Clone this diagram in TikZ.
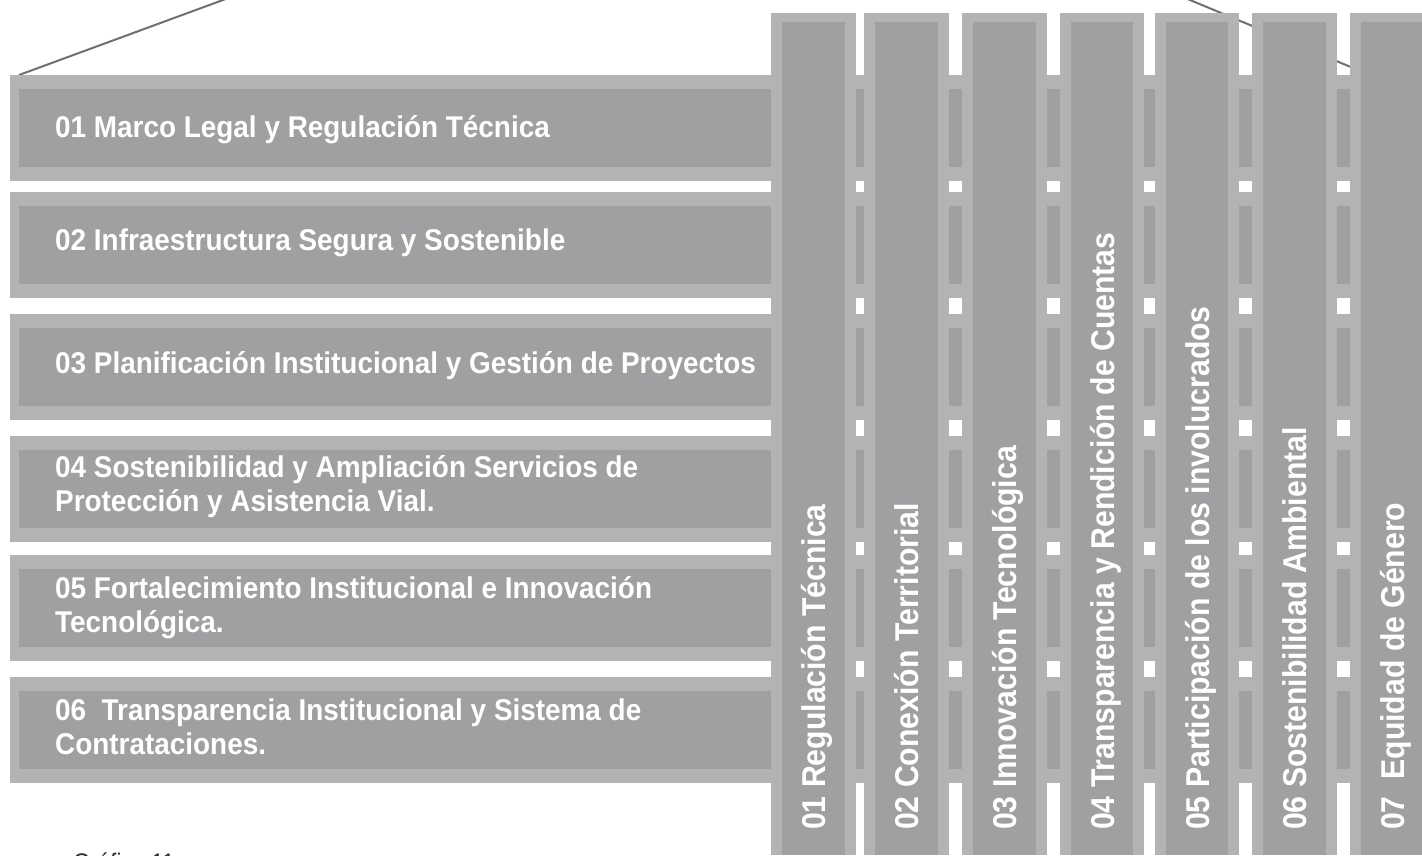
\documentclass[tikz,border=0pt]{standalone}
\usepackage{fontspec}
\newfontfamily\labelFont{Liberation Sans}[FakeStretch=0.93]
\newfontfamily\pillarFont{Liberation Sans}[FakeStretch=0.915]
\usepackage{xcolor}
\definecolor{pillarDark}{HTML}{A0A0A2}
\definecolor{pillarLight}{HTML}{B3B3B5}
\definecolor{roofGray}{HTML}{707070}
\definecolor{captionDark}{HTML}{2B2B2B}
\usepackage{tikz}
\usetikzlibrary{positioning}
\tikzset{%
  beamBar/.style={%
    fill=pillarLight
  },
  beamFill/.style={%
    fill=pillarDark
  },
  roofLine/.style={%
    draw=roofGray,
    line width=2pt
  },
  rowLabel/.style={%
    anchor=base west,
    inner sep=0pt,
    text=white,
    text width=720pt,
    align=flush left,
    font=\labelFont\bfseries\fontsize{30}{34}\selectfont
  },
  colLabel/.style={%
    anchor=base west,
    inner sep=0pt,
    text=white,
    rotate=90,
    font=\pillarFont\bfseries\fontsize{33}{38}\selectfont
  },
  captionText/.style={%
    anchor=base west,
    inner sep=0pt,
    text=captionDark,
    font=\labelFont\fontsize{24}{28}\selectfont
  }
}

\begin{document}
\begin{tikzpicture}[x=1pt,y=-1pt]
            \useasboundingbox (0,0) rectangle (1422,855);

            % roof
            \coordinate (eaveLeft) at (19,75);
            \coordinate (ridgeLeft) at (427,-75);
            \coordinate (ridgeRight) at (1130,-25);
            \coordinate (eaveRight) at (1422,96.7);
            \draw[roofLine] (eaveLeft) -- (ridgeLeft);
            \draw[roofLine] (ridgeRight) -- (eaveRight);

            % beams
            \fill[beamBar] (10,75) rectangle (1422,181);
            \fill[beamFill] (19,89) rectangle (1422,167);
            \fill[beamBar] (10,192) rectangle (1422,298);
            \fill[beamFill] (19,206) rectangle (1422,284);
            \fill[beamBar] (10,314) rectangle (1422,420);
            \fill[beamFill] (19,328) rectangle (1422,406);
            \fill[beamBar] (10,436) rectangle (1422,542);
            \fill[beamFill] (19,450) rectangle (1422,528);
            \fill[beamBar] (10,555) rectangle (1422,661);
            \fill[beamFill] (19,569) rectangle (1422,647);
            \fill[beamBar] (10,677) rectangle (1422,783);
            \fill[beamFill] (19,691) rectangle (1422,769);

            \node[rowLabel] (legal) at (55,137) {01 Marco Legal y Regulación Técnica};
            \node[rowLabel] (infra) at (55,250) {02 Infraestructura Segura y Sostenible};
            \node[rowLabel] (plan) at (55,373) {03 Planificación Institucional y Gestión de Proyectos};
            \node[rowLabel] (servicios) at (55,477) {04 Sostenibilidad y Ampliación Servicios de\\Protección y Asistencia Vial.};
            \node[rowLabel] (fortalece) at (55,598) {05 Fortalecimiento Institucional e Innovación\\Tecnológica.};
            \node[rowLabel] (contrata) at (55,720) {06\ \ Transparencia Institucional y Sistema de\\Contrataciones.};

            % pillars
            \fill[beamBar] (771,13.3) rectangle (856,855);
            \fill[beamFill] (782,22) rectangle (845,855);
            \fill[beamBar] (864,13.3) rectangle (949,855);
            \fill[beamFill] (875,22) rectangle (938,855);
            \fill[beamBar] (962,13.3) rectangle (1047,855);
            \fill[beamFill] (973,22) rectangle (1036,855);
            \fill[beamBar] (1060,13.3) rectangle (1144,855);
            \fill[beamFill] (1071,22) rectangle (1133,855);
            \fill[beamBar] (1155,13.3) rectangle (1239,855);
            \fill[beamFill] (1166,22) rectangle (1228,855);
            \fill[beamBar] (1252,13.3) rectangle (1337,855);
            \fill[beamFill] (1263,22) rectangle (1326,855);
            \fill[beamBar] (1350,13.3) rectangle (1435,855);
            \fill[beamFill] (1361,22) rectangle (1424,855);

            \node[colLabel] (regulacion) at (825,830) {01 Regulación Técnica};
            \node[colLabel] (conexion) at (918,830) {02 Conexión Territorial};
            \node[colLabel] (innovacion) at (1016,830) {03 Innovación Tecnológica};
            \node[colLabel] (rendicion) at (1114,830) {04 Transparencia y Rendición de Cuentas};
            \node[colLabel] (participa) at (1209,830) {05 Participación de los involucrados};
            \node[colLabel] (ambiental) at (1306,830) {06 Sostenibilidad Ambiental};
            \node[colLabel] (genero) at (1404,830) {07\ \ Equidad de Género};

            \node[captionText] (grafico) at (73,870) {Gráfico 11};
        \end{tikzpicture}
\end{document}
